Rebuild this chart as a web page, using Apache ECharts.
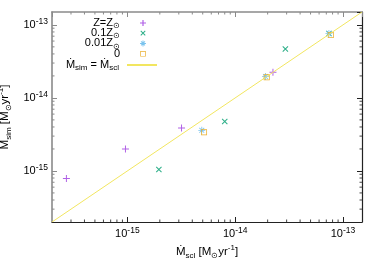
<!DOCTYPE html>
<html><head><meta charset="utf-8">
<script src="https://cdn.jsdelivr.net/npm/echarts@6/dist/echarts.min.js"></script>
<style>html,body{margin:0;padding:0;background:#fff}#c{width:382px;height:267px}</style>
</head><body><div id="c"></div>
<script>
// ---- data (M_scl, M_sim) in Msun/yr ----
var solarScl = [2.72e-16, 9.6e-16, 3.18e-15, 2.24e-14];
var solarSim = [7.9e-16, 2.0e-15, 3.88e-15, 2.24e-14];
var tenthScl = [1.96e-15, 8.0e-15, 2.92e-14, 7.4e-14];
var tenthSim = [1.05e-15, 4.76e-15, 4.67e-14, 7.6e-14];
var hundredthScl = [4.9e-15, 1.91e-14, 7.4e-14];
var hundredthSim = [3.6e-15, 1.96e-14, 7.6e-14];
var zeroScl = [5.14e-15, 1.96e-14, 7.7e-14];
var zeroSim = [3.38e-15, 1.92e-14, 7.25e-14];
var axisMin = 2e-16, axisMax = 1.5e-13;
var minorTicks = [3e-16,4e-16,5e-16,6e-16,7e-16,8e-16,9e-16,
  2e-15,3e-15,4e-15,5e-15,6e-15,7e-15,8e-15,9e-15,
  2e-14,3e-14,4e-14,5e-14,6e-14,7e-14,8e-14,9e-14];
var seriesNames = ['Z=Z\u2299','0.1Z\u2299','0.01Z\u2299','0','\u1E40sim = \u1E40scl'];
var legendLabels = ['{t|Z=Z}{sub|\u2299}{gap|}','{t|0.1Z}{sub|\u2299}{gap|}','{t|0.01Z}{sub|\u2299}{gap|}','{t|0}{gap|}','{t|\u1E40}{sub|sim}{t| = \u1E40}{sub|scl}{gap|}'];

function pairs(a,b){return a.map(function(v,i){return [v,b[i]];});}
var FONT = '"Liberation Sans", Arial, sans-serif';
var plusPath = 'path://M-5,-0.7L5,-0.7L5,0.7L-5,0.7Z M-0.7,-5L0.7,-5L0.7,5L-0.7,5Z';
var xPath = 'path://M-4.1,-3.1L-3.1,-4.1L4.1,3.1L3.1,4.1Z M3.1,-4.1L4.1,-3.1L-3.1,4.1L-4.1,3.1Z';
var starPath = 'path://M-5,-0.6L5,-0.6L5,0.6L-5,0.6Z M-0.6,-5L0.6,-5L0.6,5L-0.6,5Z M-3.9,-3.1L-3.1,-3.9L3.9,3.1L3.1,3.9Z M3.1,-3.9L3.9,-3.1L-3.1,3.9L-3.9,3.1Z';
var squarePath = 'path://M-3,-3L3,-3L3,3L-3,3Z M-2.25,-2.25L-2.25,2.25L2.25,2.25L2.25,-2.25Z';
// legend icons: same glyphs inside a 30x7 box
var W = 'M-15,-3.5L-15,-3.5M15,3.5L15,3.5';
var legendIcons = [
  'path://'+W+'M-3,-0.6L3,-0.6L3,0.6L-3,0.6ZM-0.6,-3L0.6,-3L0.6,3L-0.6,3Z',
  'path://'+W+'M-2.6,-1.9L-1.9,-2.6L2.6,1.9L1.9,2.6ZM1.9,-2.6L2.6,-1.9L-1.9,2.6L-2.6,1.9Z',
  'path://'+W+'M-3,-0.5L3,-0.5L3,0.5L-3,0.5ZM-0.5,-3L0.5,-3L0.5,3L-0.5,3ZM-2.3,-1.7L-1.7,-2.3L2.3,1.7L1.7,2.3ZM1.7,-2.3L2.3,-1.7L-1.7,2.3L-2.3,1.7Z',
  'path://'+W+'M-2.8,-2.8L2.8,-2.8L2.8,2.8L-2.8,2.8ZM-2.1,-2.1L-2.1,2.1L2.1,2.1L2.1,-2.1Z',
  null
];

var labelRich = {
  b:{fontSize:11, fontFamily:FONT, color:'#000', lineHeight:15},
  s:{fontSize:8.5, fontFamily:FONT, color:'#000', lineHeight:15, verticalAlign:'top'}
};
function tickFmt(v){var e=Math.round(Math.log10(v));return '{b|10}{s|'+e+'}';}
var nameRich = {
  t:{fontSize:11.5, fontFamily:FONT, color:'#000', lineHeight:16},
  sub:{fontSize:8, fontFamily:FONT, color:'#000', lineHeight:16, verticalAlign:'bottom'},
  sup:{fontSize:8, fontFamily:FONT, color:'#000', lineHeight:16, verticalAlign:'top'}
};
function mkAxis(pos, isLabel, col, w){
  return {
    type:'log', logBase:10, min:axisMin, max:axisMax, position:pos,
    axisLine:{show:true, onZero:false, lineStyle:{color:col, width:w}},
    axisTick:{show:true, inside:true, length:5, lineStyle:{color:col, width:1}},
    axisLabel:{show:isLabel, showMinLabel:false, showMaxLabel:false, formatter:tickFmt, rich:labelRich, margin:4},
    splitLine:{show:false}, minorTick:{show:false}, minorSplitLine:{show:false}
  };
}
var xBottom = mkAxis('bottom', true, '#222', 1.2);
xBottom.axisLabel.margin = 4;
xBottom.name = '{t|\u1E40}{sub|scl}{t| [M}{sub|\u2299}{t|yr}{sup|-1}{t|]}';
xBottom.nameLocation = 'middle'; xBottom.nameGap = 22;
xBottom.nameTextStyle = {rich:nameRich};
var xTop = mkAxis('top', false, '#8a8a8a', 1.6);
var yLeft = mkAxis('left', true, '#8a8a8a', 1.6);
yLeft.name = '{t|\u1E40}{sub|sim}{t| [M}{sub|\u2299}{t|yr}{sup|-1}{t|]}';
yLeft.nameLocation = 'middle'; yLeft.nameGap = 33; yLeft.nameRotate = 90;
yLeft.nameTextStyle = {rich:nameRich};
var yRight = mkAxis('right', false, '#222', 1.2);

var chart = echarts.init(document.getElementById('c'), null, {renderer:'canvas'});
var legendRich = {
  t:{fontSize:11, fontFamily:FONT, color:'#000', lineHeight:14},
  sub:{fontSize:8, fontFamily:FONT, color:'#000', lineHeight:14, verticalAlign:'bottom'},
  gap:{width:3, lineHeight:14}
};
var legendCenters = [23, 33.2, 43.4, 53.8, 65];
var legends = seriesNames.map(function(n,i){
  var item = legendIcons[i] ? {name:n, icon:legendIcons[i]} : {name:n};
  var lg = {data:[item], orient:'vertical', align:'right', right:224, top:legendCenters[i]-7,
    padding:0, itemWidth:30, itemHeight:7, itemGap:0, selectedMode:false,
    formatter:function(){return legendLabels[i];},
    textStyle:{rich:legendRich, fontSize:11, fontFamily:FONT, lineHeight:14}};
  if (!legendIcons[i]) lg.itemStyle = {color:'rgba(0,0,0,0)', borderColor:'rgba(0,0,0,0)', borderWidth:0};
  return lg;
});

var option = {
  animation:false,
  backgroundColor:'#fff',
  grid:{left:52, top:12, right:20, bottom:45, containLabel:false, outerBoundsMode:'none'},
  xAxis:[xBottom, xTop],
  yAxis:[yLeft, yRight],
  legend:legends,
  series:[
    {type:'custom', silent:true, z:1, data:minorTicks.map(function(v){return [v];}),
      renderItem:function(params, api){
        var v = api.value(0), cs = params.coordSys;
        var px = api.coord([v, 1e-14])[0];
        var py = api.coord([1e-14, v])[1];
        var L = 2.5;
        return {type:'group', children:[
          {type:'line', shape:{x1:px,y1:cs.y+cs.height,x2:px,y2:cs.y+cs.height-L}, style:{stroke:'#444', lineWidth:1}},
          {type:'line', shape:{x1:px,y1:cs.y,x2:px,y2:cs.y+L}, style:{stroke:'#8a8a8a', lineWidth:1}},
          {type:'line', shape:{x1:cs.x,y1:py,x2:cs.x+L,y2:py}, style:{stroke:'#8a8a8a', lineWidth:1}},
          {type:'line', shape:{x1:cs.x+cs.width,y1:py,x2:cs.x+cs.width-L,y2:py}, style:{stroke:'#444', lineWidth:1}}
        ]};
      }},
    {name:seriesNames[0], type:'scatter', symbol:plusPath, symbolSize:7, data:pairs(solarScl, solarSim),
      itemStyle:{color:'#b060e6', opacity:1}},
    {name:seriesNames[1], type:'scatter', symbol:xPath, symbolSize:6, data:pairs(tenthScl, tenthSim),
      itemStyle:{color:'#30b08a', opacity:1}},
    {name:seriesNames[2], type:'scatter', symbol:starPath, symbolSize:7, data:pairs(hundredthScl, hundredthSim),
      itemStyle:{color:'#7cc4ee', opacity:1}},
    {name:seriesNames[3], type:'scatter', symbol:squarePath, symbolSize:6, data:pairs(zeroScl, zeroSim),
      itemStyle:{color:'#eab030', opacity:1}},
    {name:seriesNames[4], type:'line', symbol:'none', data:[[axisMin, axisMin],[axisMax, axisMax]],
      lineStyle:{color:'#f2e660', width:1}, itemStyle:{color:'#f2e660'}}
  ]
};
chart.setOption(option);
</script></body></html>
